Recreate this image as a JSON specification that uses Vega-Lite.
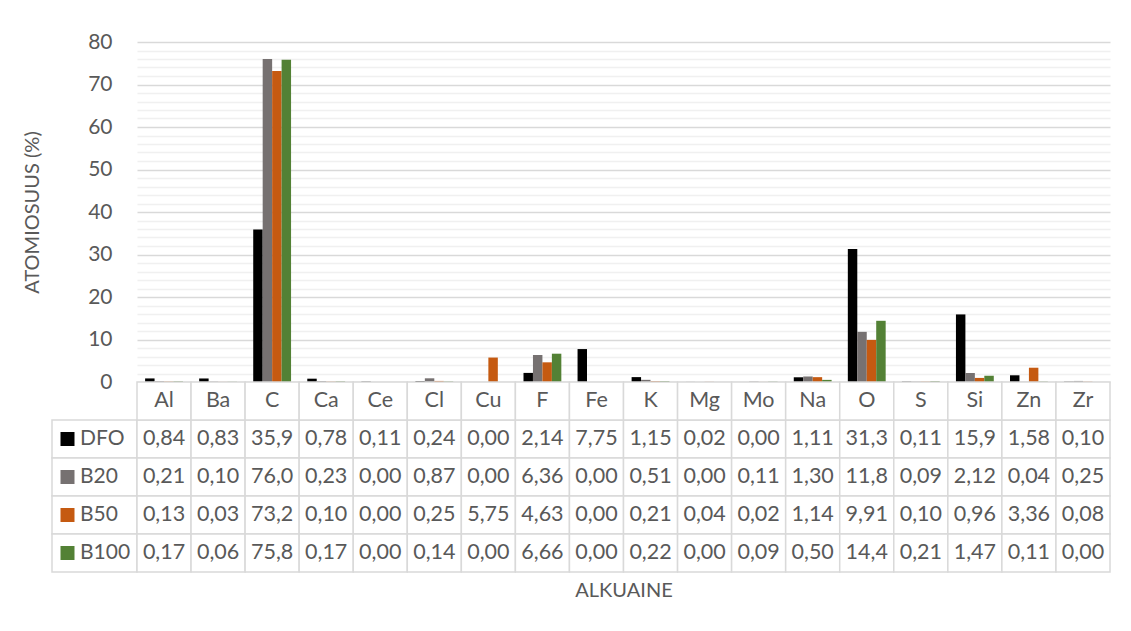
{
  "$schema": "https://vega.github.io/schema/vega-lite/v6.json",
  "padding": {"left": 22, "top": 31, "right": 10, "bottom": 10},
  "background": "white",
  "config": {
    "view": {"stroke": null},
    "font": "Lato",
    "locale": {"number": {"decimal": ",", "thousands": ".", "grouping": [3], "currency": ["", " €"]}},
    "axis": {"labelFont": "Lato", "titleFont": "Lato", "labelColor": "#595959", "titleColor": "#595959", "titleFontWeight": "normal"}
  },
  "datasets": {
    "d": [
      {"el": "Al", "s": "DFO", "v": 0.84}, {"el": "Ba", "s": "DFO", "v": 0.83}, {"el": "C", "s": "DFO", "v": 35.9}, {"el": "Ca", "s": "DFO", "v": 0.78}, {"el": "Ce", "s": "DFO", "v": 0.11}, {"el": "Cl", "s": "DFO", "v": 0.24}, {"el": "Cu", "s": "DFO", "v": 0.0}, {"el": "F", "s": "DFO", "v": 2.14}, {"el": "Fe", "s": "DFO", "v": 7.75}, {"el": "K", "s": "DFO", "v": 1.15}, {"el": "Mg", "s": "DFO", "v": 0.02}, {"el": "Mo", "s": "DFO", "v": 0.0}, {"el": "Na", "s": "DFO", "v": 1.11}, {"el": "O", "s": "DFO", "v": 31.3}, {"el": "S", "s": "DFO", "v": 0.11}, {"el": "Si", "s": "DFO", "v": 15.9}, {"el": "Zn", "s": "DFO", "v": 1.58}, {"el": "Zr", "s": "DFO", "v": 0.10},
      {"el": "Al", "s": "B20", "v": 0.21}, {"el": "Ba", "s": "B20", "v": 0.10}, {"el": "C", "s": "B20", "v": 76.0}, {"el": "Ca", "s": "B20", "v": 0.23}, {"el": "Ce", "s": "B20", "v": 0.0}, {"el": "Cl", "s": "B20", "v": 0.87}, {"el": "Cu", "s": "B20", "v": 0.0}, {"el": "F", "s": "B20", "v": 6.36}, {"el": "Fe", "s": "B20", "v": 0.0}, {"el": "K", "s": "B20", "v": 0.51}, {"el": "Mg", "s": "B20", "v": 0.0}, {"el": "Mo", "s": "B20", "v": 0.11}, {"el": "Na", "s": "B20", "v": 1.30}, {"el": "O", "s": "B20", "v": 11.8}, {"el": "S", "s": "B20", "v": 0.09}, {"el": "Si", "s": "B20", "v": 2.12}, {"el": "Zn", "s": "B20", "v": 0.04}, {"el": "Zr", "s": "B20", "v": 0.25},
      {"el": "Al", "s": "B50", "v": 0.13}, {"el": "Ba", "s": "B50", "v": 0.03}, {"el": "C", "s": "B50", "v": 73.2}, {"el": "Ca", "s": "B50", "v": 0.10}, {"el": "Ce", "s": "B50", "v": 0.0}, {"el": "Cl", "s": "B50", "v": 0.25}, {"el": "Cu", "s": "B50", "v": 5.75}, {"el": "F", "s": "B50", "v": 4.63}, {"el": "Fe", "s": "B50", "v": 0.0}, {"el": "K", "s": "B50", "v": 0.21}, {"el": "Mg", "s": "B50", "v": 0.04}, {"el": "Mo", "s": "B50", "v": 0.02}, {"el": "Na", "s": "B50", "v": 1.14}, {"el": "O", "s": "B50", "v": 9.91}, {"el": "S", "s": "B50", "v": 0.10}, {"el": "Si", "s": "B50", "v": 0.96}, {"el": "Zn", "s": "B50", "v": 3.36}, {"el": "Zr", "s": "B50", "v": 0.08},
      {"el": "Al", "s": "B100", "v": 0.17}, {"el": "Ba", "s": "B100", "v": 0.06}, {"el": "C", "s": "B100", "v": 75.8}, {"el": "Ca", "s": "B100", "v": 0.17}, {"el": "Ce", "s": "B100", "v": 0.0}, {"el": "Cl", "s": "B100", "v": 0.14}, {"el": "Cu", "s": "B100", "v": 0.0}, {"el": "F", "s": "B100", "v": 6.66}, {"el": "Fe", "s": "B100", "v": 0.0}, {"el": "K", "s": "B100", "v": 0.22}, {"el": "Mg", "s": "B100", "v": 0.0}, {"el": "Mo", "s": "B100", "v": 0.09}, {"el": "Na", "s": "B100", "v": 0.50}, {"el": "O", "s": "B100", "v": 14.4}, {"el": "S", "s": "B100", "v": 0.21}, {"el": "Si", "s": "B100", "v": 1.47}, {"el": "Zn", "s": "B100", "v": 0.11}, {"el": "Zr", "s": "B100", "v": 0.0}
    ]
  },
  "columns": 2,
  "spacing": 0,
  "bounds": "flush",
  "align": "each",
  "resolve": {"scale": {"x": "independent", "y": "independent", "color": "independent"}},
  "concat": [
    {
      "width": 85, "height": 340,
      "data": {"values": []},
      "mark": "point",
      "encoding": {}
    },
    {
      "width": 973, "height": 340,
      "data": {"name": "d"},
      "mark": {"type": "bar"},
      "encoding": {
        "x": {"field": "el", "type": "nominal", "sort": null, "axis": null,
              "scale": {"paddingInner": 0.3, "paddingOuter": 0.15}},
        "xOffset": {"field": "s", "type": "nominal", "sort": ["DFO", "B20", "B50", "B100"], "scale": {"paddingInner": 0, "paddingOuter": 0}},
        "y": {"field": "v", "type": "quantitative",
              "scale": {"domain": [0, 80], "nice": false},
              "axis": {"values": [0,2,4,6,8,10,12,14,16,18,20,22,24,26,28,30,32,34,36,38,40,42,44,46,48,50,52,54,56,58,60,62,64,66,68,70,72,74,76,78,80],
                       "labelExpr": "datum.value % 10 === 0 ? datum.label : ''",
                       "ticks": false, "domain": false,
                       "gridColor": {"condition": {"test": "datum.value % 10 === 0", "value": "#d9d9d9"}, "value": "#f0f0f0"},
                       "gridWidth": 1.3,
                       "labelFontSize": 21, "labelPadding": 25,
                       "title": "ATOMIOSUUS (%)", "titleFontSize": 20, "titlePadding": 45}},
        "color": {"field": "s", "type": "nominal", "legend": null,
                  "scale": {"domain": ["DFO", "B20", "B50", "B100"], "range": ["#000000", "#767171", "#c55a11", "#538135"]}}
      }
    },
    {
      "width": 85, "height": 190,
      "data": {"name": "d"},
      "transform": [{"filter": "datum.el === 'Al'"}],
      "encoding": {
        "y": {"field": "s", "type": "nominal", "axis": null,
              "scale": {"domain": ["hdr", "DFO", "B20", "B50", "B100"], "paddingInner": 0, "paddingOuter": 0}}
      },
      "layer": [
        {"mark": {"type": "rect", "fill": "white", "stroke": "#d9d9d9", "strokeWidth": 1.5}},
        {"mark": {"type": "point", "shape": "square", "filled": true, "size": 196, "opacity": 1},
         "encoding": {
           "x": {"datum": "sym", "type": "nominal", "axis": null,
                 "scale": {"type": "band", "domain": ["sym", "lab"], "paddingInner": 0, "paddingOuter": 0.371, "align": 0}},
           "color": {"field": "s", "type": "nominal", "legend": null,
                     "scale": {"domain": ["DFO", "B20", "B50", "B100"], "range": ["#000000", "#767171", "#c55a11", "#538135"]}}
         }},
        {"mark": {"type": "text", "align": "left", "dx": -3, "fontSize": 21, "color": "#595959", "font": "Lato"},
         "encoding": {
           "x": {"datum": "lab", "type": "nominal", "bandPosition": 0},
           "text": {"field": "s", "type": "nominal"}
         }}
      ]
    },
    {
      "width": 973, "height": 190,
      "data": {"name": "d"},
      "encoding": {
        "x": {"field": "el", "type": "nominal", "sort": null,
              "scale": {"paddingInner": 0, "paddingOuter": 0},
              "axis": {"labels": false, "ticks": false, "domain": false, "title": "ALKUAINE", "titleFontSize": 20, "titlePadding": 8}}
      },
      "layer": [
        {"mark": {"type": "rect", "fill": "white", "stroke": "#d9d9d9", "strokeWidth": 1.5},
         "encoding": {"y": {"field": "s", "type": "nominal", "axis": null,
                            "scale": {"domain": ["hdr", "DFO", "B20", "B50", "B100"], "paddingInner": 0, "paddingOuter": 0}}}},
        {"transform": [{"filter": "datum.s === 'DFO'"}],
         "mark": {"type": "rect", "fill": "white", "stroke": "#d9d9d9", "strokeWidth": 1.5},
         "encoding": {"y": {"datum": "hdr", "type": "nominal"}}},
        {"mark": {"type": "text", "fontSize": 21.5, "color": "#595959", "font": "Lato"},
         "encoding": {
           "y": {"field": "s", "type": "nominal"},
           "text": {"condition": {"test": "datum.v >= 10", "field": "v", "type": "quantitative", "format": ".1f"},
                    "field": "v", "type": "quantitative", "format": ".2f"}
         }},
        {"transform": [{"filter": "datum.s === 'DFO'"}],
         "mark": {"type": "text", "fontSize": 21.5, "color": "#595959", "font": "Lato"},
         "encoding": {
           "y": {"datum": "hdr", "type": "nominal"},
           "text": {"field": "el", "type": "nominal"}
         }}
      ]
    }
  ]
}
